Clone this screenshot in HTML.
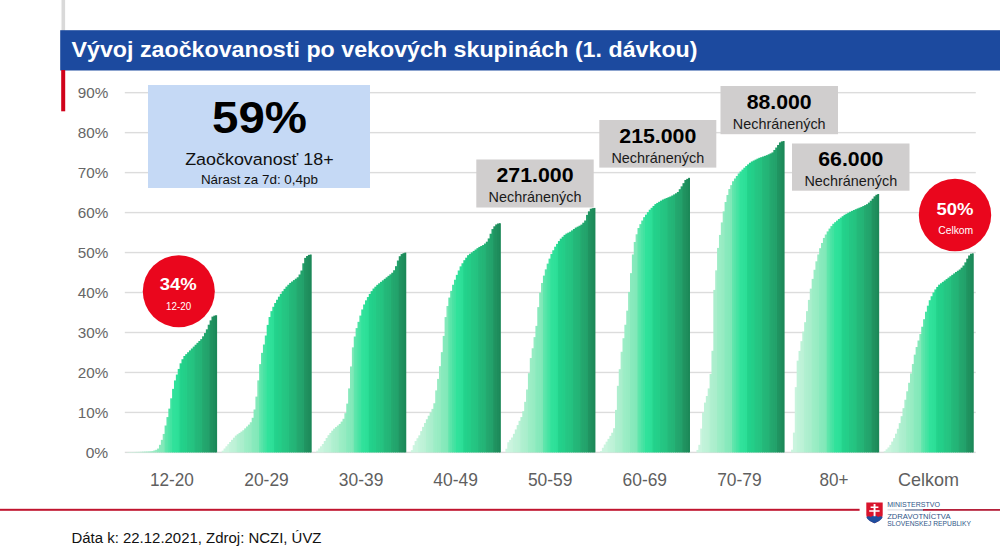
<!DOCTYPE html>
<html lang="sk">
<head>
<meta charset="utf-8">
<title>Vývoj zaočkovanosti po vekových skupinách (1. dávkou)</title>
<style>
html,body{margin:0;padding:0;background:#ffffff;}
body{width:1000px;height:552px;overflow:hidden;}
svg{display:block;font-family:'Liberation Sans', sans-serif;}
</style>
</head>
<body>
<svg width="1000" height="552" viewBox="0 0 1000 552">
<rect x="0" y="0" width="1000" height="552" fill="#ffffff"/>
<rect x="61.5" y="0" width="3.6" height="31" fill="#d9d9d9"/>
<rect x="60.2" y="30.2" width="940" height="40.3" fill="#1c4a9f"/>
<rect x="61.2" y="70" width="4" height="41.3" fill="#d0021b"/>
<text x="71.5" y="57.3" font-size="22.5" fill="#ffffff" font-weight="bold" text-anchor="start" textLength="626.0" lengthAdjust="spacingAndGlyphs">Vývoj zaočkovanosti po vekových skupinách (1. dávkou)</text>
<rect x="124.8" y="451.70" width="851" height="1.4" fill="#dcdcdc"/>
<text x="108.2" y="458.0" font-size="15.4" fill="#666666" font-weight="normal" text-anchor="end" textLength="22.5" lengthAdjust="spacingAndGlyphs">0%</text>
<rect x="124.8" y="411.73" width="851" height="1.4" fill="#dcdcdc"/>
<text x="108.2" y="418.0" font-size="15.4" fill="#666666" font-weight="normal" text-anchor="end" textLength="30.5" lengthAdjust="spacingAndGlyphs">10%</text>
<rect x="124.8" y="371.76" width="851" height="1.4" fill="#dcdcdc"/>
<text x="108.2" y="378.1" font-size="15.4" fill="#666666" font-weight="normal" text-anchor="end" textLength="30.5" lengthAdjust="spacingAndGlyphs">20%</text>
<rect x="124.8" y="331.79" width="851" height="1.4" fill="#dcdcdc"/>
<text x="108.2" y="338.1" font-size="15.4" fill="#666666" font-weight="normal" text-anchor="end" textLength="30.5" lengthAdjust="spacingAndGlyphs">30%</text>
<rect x="124.8" y="291.82" width="851" height="1.4" fill="#dcdcdc"/>
<text x="108.2" y="298.1" font-size="15.4" fill="#666666" font-weight="normal" text-anchor="end" textLength="30.5" lengthAdjust="spacingAndGlyphs">40%</text>
<rect x="124.8" y="251.85" width="851" height="1.4" fill="#dcdcdc"/>
<text x="108.2" y="258.1" font-size="15.4" fill="#666666" font-weight="normal" text-anchor="end" textLength="30.5" lengthAdjust="spacingAndGlyphs">50%</text>
<rect x="124.8" y="211.88" width="851" height="1.4" fill="#dcdcdc"/>
<text x="108.2" y="218.2" font-size="15.4" fill="#666666" font-weight="normal" text-anchor="end" textLength="30.5" lengthAdjust="spacingAndGlyphs">60%</text>
<rect x="124.8" y="171.91" width="851" height="1.4" fill="#dcdcdc"/>
<text x="108.2" y="178.2" font-size="15.4" fill="#666666" font-weight="normal" text-anchor="end" textLength="30.5" lengthAdjust="spacingAndGlyphs">70%</text>
<rect x="124.8" y="131.94" width="851" height="1.4" fill="#dcdcdc"/>
<text x="108.2" y="138.2" font-size="15.4" fill="#666666" font-weight="normal" text-anchor="end" textLength="30.5" lengthAdjust="spacingAndGlyphs">80%</text>
<rect x="124.8" y="91.97" width="851" height="1.4" fill="#dcdcdc"/>
<text x="108.2" y="98.3" font-size="15.4" fill="#666666" font-weight="normal" text-anchor="end" textLength="30.5" lengthAdjust="spacingAndGlyphs">90%</text>
<g shape-rendering="auto">
<rect x="127.10" y="452.09" width="2.77" height="0.31" fill="#cff6e1"/>
<rect x="128.97" y="452.05" width="2.77" height="0.35" fill="#cdf5e0"/>
<rect x="130.85" y="452.01" width="2.77" height="0.39" fill="#cbf4df"/>
<rect x="132.72" y="451.97" width="2.77" height="0.43" fill="#caf4de"/>
<rect x="134.60" y="451.93" width="2.77" height="0.47" fill="#c2f3da"/>
<rect x="136.47" y="451.88" width="2.77" height="0.52" fill="#c0f2d9"/>
<rect x="138.35" y="451.81" width="2.77" height="0.59" fill="#bef2d7"/>
<rect x="140.22" y="451.73" width="2.77" height="0.67" fill="#bbf1d6"/>
<rect x="142.10" y="451.66" width="2.77" height="0.74" fill="#b1f0d0"/>
<rect x="143.97" y="451.58" width="2.77" height="0.82" fill="#aeefcf"/>
<rect x="145.85" y="451.51" width="2.77" height="0.89" fill="#aceecd"/>
<rect x="147.72" y="451.43" width="2.77" height="0.97" fill="#a9eecc"/>
<rect x="149.60" y="451.36" width="2.77" height="1.04" fill="#9eedc6"/>
<rect x="151.47" y="451.12" width="2.77" height="1.28" fill="#9bedc5"/>
<rect x="153.35" y="450.46" width="2.77" height="1.94" fill="#98ecc3"/>
<rect x="155.22" y="449.81" width="2.77" height="2.59" fill="#96ebc2"/>
<rect x="157.10" y="448.56" width="2.77" height="3.84" fill="#89eabd"/>
<rect x="158.97" y="444.81" width="2.77" height="7.59" fill="#87e9bc"/>
<rect x="160.85" y="439.85" width="2.77" height="12.55" fill="#84e9ba"/>
<rect x="162.72" y="433.95" width="2.77" height="18.45" fill="#80e8b8"/>
<rect x="164.60" y="425.52" width="2.77" height="26.88" fill="#60e6ac"/>
<rect x="166.47" y="417.08" width="2.77" height="35.32" fill="#57e5a9"/>
<rect x="168.35" y="408.63" width="2.77" height="43.77" fill="#4ae3a4"/>
<rect x="170.22" y="398.32" width="2.77" height="54.08" fill="#41e3a1"/>
<rect x="172.10" y="388.87" width="2.77" height="63.53" fill="#31e29b"/>
<rect x="173.97" y="380.43" width="2.77" height="71.97" fill="#30e19b"/>
<rect x="175.85" y="374.57" width="2.77" height="77.83" fill="#2ee099"/>
<rect x="177.72" y="368.94" width="2.77" height="83.46" fill="#2cde97"/>
<rect x="179.60" y="363.32" width="2.77" height="89.08" fill="#24d38c"/>
<rect x="181.47" y="359.23" width="2.77" height="93.17" fill="#23d18b"/>
<rect x="183.35" y="356.00" width="2.77" height="96.40" fill="#24cf89"/>
<rect x="185.22" y="354.13" width="2.77" height="98.27" fill="#24ce88"/>
<rect x="187.10" y="352.25" width="2.77" height="100.15" fill="#25c784"/>
<rect x="188.97" y="350.38" width="2.77" height="102.02" fill="#25c683"/>
<rect x="190.85" y="348.50" width="2.77" height="103.90" fill="#25c481"/>
<rect x="192.72" y="346.63" width="2.77" height="105.77" fill="#25c280"/>
<rect x="194.60" y="344.75" width="2.77" height="107.65" fill="#24b97a"/>
<rect x="196.47" y="342.88" width="2.77" height="109.52" fill="#24b779"/>
<rect x="198.35" y="341.00" width="2.77" height="111.40" fill="#24b577"/>
<rect x="200.22" y="339.13" width="2.77" height="113.27" fill="#24b376"/>
<rect x="202.10" y="336.31" width="2.77" height="116.09" fill="#24a96f"/>
<rect x="203.97" y="333.07" width="2.77" height="119.33" fill="#23a66e"/>
<rect x="205.85" y="329.32" width="2.77" height="123.08" fill="#23a46c"/>
<rect x="207.72" y="324.72" width="2.77" height="127.68" fill="#23a16b"/>
<rect x="209.60" y="320.37" width="2.77" height="132.03" fill="#209461"/>
<rect x="211.47" y="316.62" width="2.77" height="135.78" fill="#20915f"/>
<rect x="213.35" y="315.64" width="2.77" height="136.76" fill="#1e8d5c"/>
<rect x="215.22" y="315.26" width="1.88" height="137.14" fill="#1c8858"/>
<rect x="221.68" y="450.68" width="2.77" height="1.72" fill="#cff6e1"/>
<rect x="223.56" y="448.49" width="2.77" height="3.91" fill="#cdf5e0"/>
<rect x="225.43" y="446.30" width="2.77" height="6.10" fill="#cbf4df"/>
<rect x="227.31" y="444.12" width="2.77" height="8.28" fill="#caf4de"/>
<rect x="229.18" y="441.98" width="2.77" height="10.42" fill="#c2f3da"/>
<rect x="231.06" y="439.83" width="2.77" height="12.57" fill="#c0f2d9"/>
<rect x="232.93" y="437.69" width="2.77" height="14.71" fill="#bef2d7"/>
<rect x="234.81" y="435.59" width="2.77" height="16.81" fill="#bbf1d6"/>
<rect x="236.68" y="434.25" width="2.77" height="18.15" fill="#b1f0d0"/>
<rect x="238.56" y="432.91" width="2.77" height="19.49" fill="#aeefcf"/>
<rect x="240.43" y="431.57" width="2.77" height="20.83" fill="#aceecd"/>
<rect x="242.31" y="430.23" width="2.77" height="22.17" fill="#a9eecc"/>
<rect x="244.18" y="428.36" width="2.77" height="24.04" fill="#9eedc6"/>
<rect x="246.06" y="426.49" width="2.77" height="25.91" fill="#9bedc5"/>
<rect x="247.93" y="424.61" width="2.77" height="27.79" fill="#98ecc3"/>
<rect x="249.81" y="422.26" width="2.77" height="30.14" fill="#96ebc2"/>
<rect x="251.68" y="417.79" width="2.77" height="34.61" fill="#89eabd"/>
<rect x="253.56" y="409.48" width="2.77" height="42.92" fill="#87e9bc"/>
<rect x="255.43" y="396.60" width="2.77" height="55.80" fill="#84e9ba"/>
<rect x="257.31" y="380.38" width="2.77" height="72.02" fill="#80e8b8"/>
<rect x="259.18" y="364.15" width="2.77" height="88.25" fill="#60e6ac"/>
<rect x="261.06" y="352.86" width="2.77" height="99.54" fill="#57e5a9"/>
<rect x="262.93" y="344.53" width="2.77" height="107.87" fill="#4ae3a4"/>
<rect x="264.81" y="335.54" width="2.77" height="116.86" fill="#41e3a1"/>
<rect x="266.68" y="324.91" width="2.77" height="127.49" fill="#31e29b"/>
<rect x="268.56" y="317.03" width="2.77" height="135.37" fill="#30e19b"/>
<rect x="270.43" y="311.14" width="2.77" height="141.26" fill="#2ee099"/>
<rect x="272.31" y="306.77" width="2.77" height="145.63" fill="#2cde97"/>
<rect x="274.18" y="303.04" width="2.77" height="149.36" fill="#24d38c"/>
<rect x="276.06" y="299.76" width="2.77" height="152.64" fill="#23d18b"/>
<rect x="277.93" y="296.70" width="2.77" height="155.70" fill="#24cf89"/>
<rect x="279.81" y="293.89" width="2.77" height="158.51" fill="#24ce88"/>
<rect x="281.68" y="291.23" width="2.77" height="161.17" fill="#25c784"/>
<rect x="283.56" y="288.88" width="2.77" height="163.52" fill="#25c683"/>
<rect x="285.43" y="286.63" width="2.77" height="165.77" fill="#25c481"/>
<rect x="287.31" y="284.76" width="2.77" height="167.64" fill="#25c280"/>
<rect x="289.18" y="282.91" width="2.77" height="169.49" fill="#24b97a"/>
<rect x="291.06" y="281.51" width="2.77" height="170.89" fill="#24b779"/>
<rect x="292.93" y="280.10" width="2.77" height="172.30" fill="#24b577"/>
<rect x="294.81" y="278.69" width="2.77" height="173.71" fill="#24b376"/>
<rect x="296.68" y="277.29" width="2.77" height="175.11" fill="#24a96f"/>
<rect x="298.56" y="274.51" width="2.77" height="177.89" fill="#23a66e"/>
<rect x="300.43" y="270.53" width="2.77" height="181.87" fill="#23a46c"/>
<rect x="302.31" y="263.27" width="2.77" height="189.13" fill="#23a16b"/>
<rect x="304.18" y="257.88" width="2.77" height="194.52" fill="#209461"/>
<rect x="306.06" y="256.01" width="2.77" height="196.39" fill="#20915f"/>
<rect x="307.93" y="254.86" width="2.77" height="197.54" fill="#1e8d5c"/>
<rect x="309.81" y="254.54" width="1.88" height="197.86" fill="#1c8858"/>
<rect x="316.26" y="450.66" width="2.77" height="1.74" fill="#cff6e1"/>
<rect x="318.13" y="448.47" width="2.77" height="3.93" fill="#cdf5e0"/>
<rect x="320.01" y="446.29" width="2.77" height="6.11" fill="#cbf4df"/>
<rect x="321.88" y="444.01" width="2.77" height="8.39" fill="#caf4de"/>
<rect x="323.76" y="441.01" width="2.77" height="11.39" fill="#c2f3da"/>
<rect x="325.63" y="438.01" width="2.77" height="14.39" fill="#c0f2d9"/>
<rect x="327.51" y="435.17" width="2.77" height="17.23" fill="#bef2d7"/>
<rect x="329.38" y="432.92" width="2.77" height="19.48" fill="#bbf1d6"/>
<rect x="331.26" y="430.67" width="2.77" height="21.73" fill="#b1f0d0"/>
<rect x="333.13" y="428.64" width="2.77" height="23.76" fill="#aeefcf"/>
<rect x="335.01" y="427.07" width="2.77" height="25.33" fill="#aceecd"/>
<rect x="336.88" y="425.51" width="2.77" height="26.89" fill="#a9eecc"/>
<rect x="338.76" y="423.95" width="2.77" height="28.45" fill="#9eedc6"/>
<rect x="340.63" y="421.60" width="2.77" height="30.80" fill="#9bedc5"/>
<rect x="342.51" y="418.79" width="2.77" height="33.61" fill="#98ecc3"/>
<rect x="344.38" y="413.16" width="2.77" height="39.24" fill="#96ebc2"/>
<rect x="346.26" y="403.61" width="2.77" height="48.79" fill="#89eabd"/>
<rect x="348.13" y="388.41" width="2.77" height="63.99" fill="#87e9bc"/>
<rect x="350.01" y="366.46" width="2.77" height="85.94" fill="#84e9ba"/>
<rect x="351.88" y="347.36" width="2.77" height="105.04" fill="#80e8b8"/>
<rect x="353.76" y="336.51" width="2.77" height="115.89" fill="#60e6ac"/>
<rect x="355.63" y="328.09" width="2.77" height="124.31" fill="#57e5a9"/>
<rect x="357.51" y="321.84" width="2.77" height="130.56" fill="#4ae3a4"/>
<rect x="359.38" y="315.59" width="2.77" height="136.81" fill="#41e3a1"/>
<rect x="361.26" y="309.47" width="2.77" height="142.93" fill="#31e29b"/>
<rect x="363.13" y="304.47" width="2.77" height="147.93" fill="#30e19b"/>
<rect x="365.01" y="300.34" width="2.77" height="152.06" fill="#2ee099"/>
<rect x="366.88" y="297.06" width="2.77" height="155.34" fill="#2cde97"/>
<rect x="368.76" y="293.95" width="2.77" height="158.45" fill="#24d38c"/>
<rect x="370.63" y="291.14" width="2.77" height="161.26" fill="#23d18b"/>
<rect x="372.51" y="288.55" width="2.77" height="163.85" fill="#24cf89"/>
<rect x="374.38" y="286.68" width="2.77" height="165.72" fill="#24ce88"/>
<rect x="376.26" y="284.84" width="2.77" height="167.56" fill="#25c784"/>
<rect x="378.13" y="283.34" width="2.77" height="169.06" fill="#25c683"/>
<rect x="380.01" y="281.84" width="2.77" height="170.56" fill="#25c481"/>
<rect x="381.88" y="280.34" width="2.77" height="172.06" fill="#25c280"/>
<rect x="383.76" y="278.84" width="2.77" height="173.56" fill="#24b97a"/>
<rect x="385.63" y="277.34" width="2.77" height="175.06" fill="#24b779"/>
<rect x="387.51" y="275.84" width="2.77" height="176.56" fill="#24b577"/>
<rect x="389.38" y="274.34" width="2.77" height="178.06" fill="#24b376"/>
<rect x="391.26" y="272.74" width="2.77" height="179.66" fill="#24a96f"/>
<rect x="393.13" y="270.24" width="2.77" height="182.16" fill="#23a66e"/>
<rect x="395.01" y="266.16" width="2.77" height="186.24" fill="#23a46c"/>
<rect x="396.88" y="260.53" width="2.77" height="191.87" fill="#23a16b"/>
<rect x="398.76" y="256.21" width="2.77" height="196.19" fill="#209461"/>
<rect x="400.63" y="254.08" width="2.77" height="198.32" fill="#20915f"/>
<rect x="402.51" y="253.17" width="2.77" height="199.23" fill="#1e8d5c"/>
<rect x="404.38" y="252.60" width="1.88" height="199.80" fill="#1c8858"/>
<rect x="410.84" y="450.13" width="2.77" height="2.27" fill="#cff6e1"/>
<rect x="412.72" y="445.17" width="2.77" height="7.23" fill="#cdf5e0"/>
<rect x="414.59" y="441.06" width="2.77" height="11.34" fill="#cbf4df"/>
<rect x="416.47" y="438.24" width="2.77" height="14.16" fill="#caf4de"/>
<rect x="418.34" y="435.32" width="2.77" height="17.08" fill="#c2f3da"/>
<rect x="420.22" y="431.10" width="2.77" height="21.30" fill="#c0f2d9"/>
<rect x="422.09" y="426.88" width="2.77" height="25.52" fill="#bef2d7"/>
<rect x="423.97" y="423.02" width="2.77" height="29.38" fill="#bbf1d6"/>
<rect x="425.84" y="419.27" width="2.77" height="33.13" fill="#b1f0d0"/>
<rect x="427.72" y="415.73" width="2.77" height="36.67" fill="#aeefcf"/>
<rect x="429.59" y="412.45" width="2.77" height="39.95" fill="#aceecd"/>
<rect x="431.47" y="408.88" width="2.77" height="43.52" fill="#a9eecc"/>
<rect x="433.34" y="403.25" width="2.77" height="49.15" fill="#9eedc6"/>
<rect x="435.22" y="390.41" width="2.77" height="61.99" fill="#9bedc5"/>
<rect x="437.09" y="378.91" width="2.77" height="73.49" fill="#98ecc3"/>
<rect x="438.97" y="366.17" width="2.77" height="86.23" fill="#96ebc2"/>
<rect x="440.84" y="352.15" width="2.77" height="100.25" fill="#89eabd"/>
<rect x="442.72" y="335.93" width="2.77" height="116.47" fill="#87e9bc"/>
<rect x="444.59" y="317.07" width="2.77" height="135.33" fill="#84e9ba"/>
<rect x="446.47" y="306.01" width="2.77" height="146.39" fill="#80e8b8"/>
<rect x="448.34" y="297.57" width="2.77" height="154.83" fill="#60e6ac"/>
<rect x="450.22" y="290.88" width="2.77" height="161.52" fill="#57e5a9"/>
<rect x="452.09" y="284.77" width="2.77" height="167.63" fill="#4ae3a4"/>
<rect x="453.97" y="279.73" width="2.77" height="172.67" fill="#41e3a1"/>
<rect x="455.84" y="274.88" width="2.77" height="177.52" fill="#31e29b"/>
<rect x="457.72" y="270.50" width="2.77" height="181.90" fill="#30e19b"/>
<rect x="459.59" y="266.37" width="2.77" height="186.03" fill="#2ee099"/>
<rect x="461.47" y="263.25" width="2.77" height="189.15" fill="#2cde97"/>
<rect x="463.34" y="260.18" width="2.77" height="192.22" fill="#24d38c"/>
<rect x="465.22" y="257.68" width="2.77" height="194.72" fill="#23d18b"/>
<rect x="467.09" y="255.18" width="2.77" height="197.22" fill="#24cf89"/>
<rect x="468.97" y="253.77" width="2.77" height="198.63" fill="#24ce88"/>
<rect x="470.84" y="252.36" width="2.77" height="200.04" fill="#25c784"/>
<rect x="472.72" y="250.95" width="2.77" height="201.45" fill="#25c683"/>
<rect x="474.59" y="249.55" width="2.77" height="202.85" fill="#25c481"/>
<rect x="476.47" y="248.14" width="2.77" height="204.26" fill="#25c280"/>
<rect x="478.34" y="246.92" width="2.77" height="205.48" fill="#24b97a"/>
<rect x="480.22" y="245.98" width="2.77" height="206.42" fill="#24b779"/>
<rect x="482.09" y="245.04" width="2.77" height="207.36" fill="#24b577"/>
<rect x="483.97" y="243.55" width="2.77" height="208.85" fill="#24b376"/>
<rect x="485.84" y="241.68" width="2.77" height="210.72" fill="#24a96f"/>
<rect x="487.72" y="238.44" width="2.77" height="213.96" fill="#23a66e"/>
<rect x="489.59" y="233.75" width="2.77" height="218.65" fill="#23a46c"/>
<rect x="491.47" y="229.06" width="2.77" height="223.34" fill="#23a16b"/>
<rect x="493.34" y="226.30" width="2.77" height="226.10" fill="#209461"/>
<rect x="495.22" y="224.42" width="2.77" height="227.98" fill="#20915f"/>
<rect x="497.09" y="223.50" width="2.77" height="228.90" fill="#1e8d5c"/>
<rect x="498.97" y="223.25" width="1.88" height="229.15" fill="#1c8858"/>
<rect x="505.42" y="448.76" width="2.77" height="3.64" fill="#cff6e1"/>
<rect x="507.29" y="442.27" width="2.77" height="10.13" fill="#cdf5e0"/>
<rect x="509.17" y="439.87" width="2.77" height="12.53" fill="#cbf4df"/>
<rect x="511.04" y="437.52" width="2.77" height="14.88" fill="#caf4de"/>
<rect x="512.92" y="433.83" width="2.77" height="18.57" fill="#c2f3da"/>
<rect x="514.79" y="429.45" width="2.77" height="22.95" fill="#c0f2d9"/>
<rect x="516.67" y="425.08" width="2.77" height="27.32" fill="#bef2d7"/>
<rect x="518.54" y="420.82" width="2.77" height="31.58" fill="#bbf1d6"/>
<rect x="520.42" y="417.07" width="2.77" height="35.33" fill="#b1f0d0"/>
<rect x="522.29" y="411.21" width="2.77" height="41.19" fill="#aeefcf"/>
<rect x="524.17" y="401.83" width="2.77" height="50.57" fill="#aceecd"/>
<rect x="526.04" y="389.50" width="2.77" height="62.90" fill="#a9eecc"/>
<rect x="527.92" y="373.16" width="2.77" height="79.24" fill="#9eedc6"/>
<rect x="529.79" y="358.08" width="2.77" height="94.32" fill="#9bedc5"/>
<rect x="531.67" y="348.29" width="2.77" height="104.11" fill="#98ecc3"/>
<rect x="533.54" y="337.12" width="2.77" height="115.28" fill="#96ebc2"/>
<rect x="535.42" y="325.88" width="2.77" height="126.52" fill="#89eabd"/>
<rect x="537.29" y="307.13" width="2.77" height="145.27" fill="#87e9bc"/>
<rect x="539.17" y="292.67" width="2.77" height="159.73" fill="#84e9ba"/>
<rect x="541.04" y="283.01" width="2.77" height="169.39" fill="#80e8b8"/>
<rect x="542.92" y="275.62" width="2.77" height="176.78" fill="#60e6ac"/>
<rect x="544.79" y="269.37" width="2.77" height="183.03" fill="#57e5a9"/>
<rect x="546.67" y="263.63" width="2.77" height="188.77" fill="#4ae3a4"/>
<rect x="548.54" y="258.63" width="2.77" height="193.77" fill="#41e3a1"/>
<rect x="550.42" y="254.01" width="2.77" height="198.39" fill="#31e29b"/>
<rect x="552.29" y="250.26" width="2.77" height="202.14" fill="#30e19b"/>
<rect x="554.17" y="246.71" width="2.77" height="205.69" fill="#2ee099"/>
<rect x="556.04" y="243.89" width="2.77" height="208.51" fill="#2cde97"/>
<rect x="557.92" y="241.08" width="2.77" height="211.32" fill="#24d38c"/>
<rect x="559.79" y="238.65" width="2.77" height="213.75" fill="#23d18b"/>
<rect x="561.67" y="236.77" width="2.77" height="215.63" fill="#24cf89"/>
<rect x="563.54" y="234.90" width="2.77" height="217.50" fill="#24ce88"/>
<rect x="565.42" y="233.58" width="2.77" height="218.82" fill="#25c784"/>
<rect x="567.29" y="232.65" width="2.77" height="219.75" fill="#25c683"/>
<rect x="569.17" y="231.71" width="2.77" height="220.69" fill="#25c481"/>
<rect x="571.04" y="230.40" width="2.77" height="222.00" fill="#25c280"/>
<rect x="572.92" y="228.99" width="2.77" height="223.41" fill="#24b97a"/>
<rect x="574.79" y="227.58" width="2.77" height="224.82" fill="#24b779"/>
<rect x="576.67" y="226.65" width="2.77" height="225.75" fill="#24b577"/>
<rect x="578.54" y="225.71" width="2.77" height="226.69" fill="#24b376"/>
<rect x="580.42" y="224.59" width="2.77" height="227.81" fill="#24a96f"/>
<rect x="582.29" y="222.71" width="2.77" height="229.69" fill="#23a66e"/>
<rect x="584.17" y="220.49" width="2.77" height="231.91" fill="#23a46c"/>
<rect x="586.04" y="214.86" width="2.77" height="237.54" fill="#23a16b"/>
<rect x="587.92" y="211.34" width="2.77" height="241.06" fill="#209461"/>
<rect x="589.79" y="208.74" width="2.77" height="243.66" fill="#20915f"/>
<rect x="591.67" y="208.19" width="2.77" height="244.21" fill="#1e8d5c"/>
<rect x="593.54" y="207.94" width="1.88" height="244.46" fill="#1c8858"/>
<rect x="600.00" y="451.08" width="2.77" height="1.32" fill="#cff6e1"/>
<rect x="601.88" y="447.80" width="2.77" height="4.60" fill="#cdf5e0"/>
<rect x="603.75" y="444.51" width="2.77" height="7.89" fill="#cbf4df"/>
<rect x="605.62" y="441.68" width="2.77" height="10.72" fill="#caf4de"/>
<rect x="607.50" y="438.87" width="2.77" height="13.53" fill="#c2f3da"/>
<rect x="609.38" y="435.86" width="2.77" height="16.54" fill="#c0f2d9"/>
<rect x="611.25" y="432.73" width="2.77" height="19.67" fill="#bef2d7"/>
<rect x="613.12" y="428.21" width="2.77" height="24.19" fill="#bbf1d6"/>
<rect x="615.00" y="409.92" width="2.77" height="42.48" fill="#b1f0d0"/>
<rect x="616.88" y="385.82" width="2.77" height="66.58" fill="#aeefcf"/>
<rect x="618.75" y="369.21" width="2.77" height="83.19" fill="#aceecd"/>
<rect x="620.62" y="351.78" width="2.77" height="100.62" fill="#a9eecc"/>
<rect x="622.50" y="338.21" width="2.77" height="114.19" fill="#9eedc6"/>
<rect x="624.38" y="324.75" width="2.77" height="127.65" fill="#9bedc5"/>
<rect x="626.25" y="310.66" width="2.77" height="141.74" fill="#98ecc3"/>
<rect x="628.12" y="291.91" width="2.77" height="160.49" fill="#96ebc2"/>
<rect x="630.00" y="273.16" width="2.77" height="179.24" fill="#89eabd"/>
<rect x="631.88" y="254.49" width="2.77" height="197.91" fill="#87e9bc"/>
<rect x="633.75" y="241.99" width="2.77" height="210.41" fill="#84e9ba"/>
<rect x="635.62" y="234.28" width="2.77" height="218.12" fill="#80e8b8"/>
<rect x="637.50" y="228.03" width="2.77" height="224.37" fill="#60e6ac"/>
<rect x="639.38" y="224.16" width="2.77" height="228.24" fill="#57e5a9"/>
<rect x="641.25" y="220.55" width="2.77" height="231.85" fill="#4ae3a4"/>
<rect x="643.12" y="217.16" width="2.77" height="235.24" fill="#41e3a1"/>
<rect x="645.00" y="214.66" width="2.77" height="237.74" fill="#31e29b"/>
<rect x="646.88" y="212.16" width="2.77" height="240.24" fill="#30e19b"/>
<rect x="648.75" y="209.71" width="2.77" height="242.69" fill="#2ee099"/>
<rect x="650.62" y="207.84" width="2.77" height="244.56" fill="#2cde97"/>
<rect x="652.50" y="205.96" width="2.77" height="246.44" fill="#24d38c"/>
<rect x="654.38" y="204.09" width="2.77" height="248.31" fill="#23d18b"/>
<rect x="656.25" y="202.93" width="2.77" height="249.47" fill="#24cf89"/>
<rect x="658.12" y="201.81" width="2.77" height="250.59" fill="#24ce88"/>
<rect x="660.00" y="200.68" width="2.77" height="251.72" fill="#25c784"/>
<rect x="661.88" y="199.56" width="2.77" height="252.84" fill="#25c683"/>
<rect x="663.75" y="198.74" width="2.77" height="253.66" fill="#25c481"/>
<rect x="665.62" y="197.99" width="2.77" height="254.41" fill="#25c280"/>
<rect x="667.50" y="197.24" width="2.77" height="255.16" fill="#24b97a"/>
<rect x="669.38" y="196.49" width="2.77" height="255.91" fill="#24b779"/>
<rect x="671.25" y="195.51" width="2.77" height="256.89" fill="#24b577"/>
<rect x="673.12" y="194.40" width="2.77" height="258.00" fill="#24b376"/>
<rect x="675.00" y="193.30" width="2.77" height="259.10" fill="#24a96f"/>
<rect x="676.88" y="191.99" width="2.77" height="260.41" fill="#23a66e"/>
<rect x="678.75" y="189.18" width="2.77" height="263.22" fill="#23a46c"/>
<rect x="680.62" y="186.35" width="2.77" height="266.05" fill="#23a16b"/>
<rect x="682.50" y="183.16" width="2.77" height="269.24" fill="#209461"/>
<rect x="684.38" y="179.97" width="2.77" height="272.43" fill="#20915f"/>
<rect x="686.25" y="178.88" width="2.77" height="273.52" fill="#1e8d5c"/>
<rect x="688.12" y="177.85" width="1.88" height="274.55" fill="#1c8858"/>
<rect x="696.46" y="449.95" width="2.77" height="2.45" fill="#cdf5e0"/>
<rect x="698.33" y="444.82" width="2.77" height="7.58" fill="#cbf4df"/>
<rect x="700.21" y="428.57" width="2.77" height="23.83" fill="#caf4de"/>
<rect x="702.08" y="412.48" width="2.77" height="39.92" fill="#c2f3da"/>
<rect x="703.96" y="402.60" width="2.77" height="49.80" fill="#c0f2d9"/>
<rect x="705.83" y="396.00" width="2.77" height="56.40" fill="#bef2d7"/>
<rect x="707.71" y="388.43" width="2.77" height="63.97" fill="#bbf1d6"/>
<rect x="709.58" y="373.96" width="2.77" height="78.44" fill="#b1f0d0"/>
<rect x="711.46" y="350.79" width="2.77" height="101.61" fill="#aeefcf"/>
<rect x="713.33" y="289.92" width="2.77" height="162.48" fill="#aceecd"/>
<rect x="715.21" y="270.35" width="2.77" height="182.05" fill="#a9eecc"/>
<rect x="717.08" y="247.91" width="2.77" height="204.49" fill="#9eedc6"/>
<rect x="718.96" y="234.92" width="2.77" height="217.48" fill="#9bedc5"/>
<rect x="720.83" y="222.42" width="2.77" height="229.98" fill="#98ecc3"/>
<rect x="722.71" y="211.37" width="2.77" height="241.03" fill="#96ebc2"/>
<rect x="724.58" y="202.01" width="2.77" height="250.39" fill="#89eabd"/>
<rect x="726.46" y="194.98" width="2.77" height="257.42" fill="#87e9bc"/>
<rect x="728.33" y="189.03" width="2.77" height="263.37" fill="#84e9ba"/>
<rect x="730.21" y="185.12" width="2.77" height="267.28" fill="#80e8b8"/>
<rect x="732.08" y="181.22" width="2.77" height="271.18" fill="#60e6ac"/>
<rect x="733.96" y="178.51" width="2.77" height="273.89" fill="#57e5a9"/>
<rect x="735.83" y="176.01" width="2.77" height="276.39" fill="#4ae3a4"/>
<rect x="737.71" y="173.51" width="2.77" height="278.89" fill="#41e3a1"/>
<rect x="739.58" y="171.47" width="2.77" height="280.93" fill="#31e29b"/>
<rect x="741.46" y="169.60" width="2.77" height="282.80" fill="#30e19b"/>
<rect x="743.33" y="167.72" width="2.77" height="284.68" fill="#2ee099"/>
<rect x="745.21" y="166.00" width="2.77" height="286.40" fill="#2cde97"/>
<rect x="747.08" y="164.38" width="2.77" height="288.02" fill="#24d38c"/>
<rect x="748.96" y="162.75" width="2.77" height="289.65" fill="#23d18b"/>
<rect x="750.83" y="161.47" width="2.77" height="290.93" fill="#24cf89"/>
<rect x="752.71" y="160.53" width="2.77" height="291.87" fill="#24ce88"/>
<rect x="754.58" y="159.60" width="2.77" height="292.80" fill="#25c784"/>
<rect x="756.46" y="158.66" width="2.77" height="293.74" fill="#25c683"/>
<rect x="758.33" y="157.82" width="2.77" height="294.58" fill="#25c481"/>
<rect x="760.21" y="157.16" width="2.77" height="295.24" fill="#25c280"/>
<rect x="762.08" y="156.51" width="2.77" height="295.89" fill="#24b97a"/>
<rect x="763.96" y="155.85" width="2.77" height="296.55" fill="#24b779"/>
<rect x="765.83" y="155.15" width="2.77" height="297.25" fill="#24b577"/>
<rect x="767.71" y="154.28" width="2.77" height="298.12" fill="#24b376"/>
<rect x="769.58" y="153.40" width="2.77" height="299.00" fill="#24a96f"/>
<rect x="771.46" y="152.41" width="2.77" height="299.99" fill="#23a66e"/>
<rect x="773.33" y="149.97" width="2.77" height="302.43" fill="#23a46c"/>
<rect x="775.21" y="147.53" width="2.77" height="304.87" fill="#23a16b"/>
<rect x="777.08" y="144.98" width="2.77" height="307.42" fill="#209461"/>
<rect x="778.96" y="142.42" width="2.77" height="309.98" fill="#20915f"/>
<rect x="780.83" y="141.42" width="2.77" height="310.98" fill="#1e8d5c"/>
<rect x="782.71" y="141.04" width="1.88" height="311.36" fill="#1c8858"/>
<rect x="791.03" y="449.70" width="2.77" height="2.70" fill="#cdf5e0"/>
<rect x="792.91" y="432.62" width="2.77" height="19.78" fill="#cbf4df"/>
<rect x="794.78" y="387.15" width="2.77" height="65.25" fill="#caf4de"/>
<rect x="796.66" y="360.67" width="2.77" height="91.73" fill="#c2f3da"/>
<rect x="798.53" y="350.91" width="2.77" height="101.49" fill="#c0f2d9"/>
<rect x="800.41" y="341.16" width="2.77" height="111.24" fill="#bef2d7"/>
<rect x="802.28" y="331.57" width="2.77" height="120.83" fill="#bbf1d6"/>
<rect x="804.16" y="322.19" width="2.77" height="130.21" fill="#b1f0d0"/>
<rect x="806.03" y="311.14" width="2.77" height="141.26" fill="#aeefcf"/>
<rect x="807.91" y="299.89" width="2.77" height="152.51" fill="#aceecd"/>
<rect x="809.78" y="288.64" width="2.77" height="163.76" fill="#a9eecc"/>
<rect x="811.66" y="278.90" width="2.77" height="173.50" fill="#9eedc6"/>
<rect x="813.53" y="269.77" width="2.77" height="182.63" fill="#9bedc5"/>
<rect x="815.41" y="261.33" width="2.77" height="191.07" fill="#98ecc3"/>
<rect x="817.28" y="254.45" width="2.77" height="197.95" fill="#96ebc2"/>
<rect x="819.16" y="248.20" width="2.77" height="204.20" fill="#89eabd"/>
<rect x="821.03" y="242.98" width="2.77" height="209.42" fill="#87e9bc"/>
<rect x="822.91" y="237.94" width="2.77" height="214.46" fill="#84e9ba"/>
<rect x="824.78" y="234.52" width="2.77" height="217.88" fill="#80e8b8"/>
<rect x="826.66" y="231.40" width="2.77" height="221.00" fill="#60e6ac"/>
<rect x="828.53" y="228.60" width="2.77" height="223.80" fill="#57e5a9"/>
<rect x="830.41" y="226.10" width="2.77" height="226.30" fill="#4ae3a4"/>
<rect x="832.28" y="223.79" width="2.77" height="228.61" fill="#41e3a1"/>
<rect x="834.16" y="222.20" width="2.77" height="230.20" fill="#31e29b"/>
<rect x="836.03" y="220.61" width="2.77" height="231.79" fill="#30e19b"/>
<rect x="837.91" y="219.03" width="2.77" height="233.37" fill="#2ee099"/>
<rect x="839.78" y="217.63" width="2.77" height="234.77" fill="#2cde97"/>
<rect x="841.66" y="216.22" width="2.77" height="236.18" fill="#24d38c"/>
<rect x="843.53" y="214.83" width="2.77" height="237.57" fill="#23d18b"/>
<rect x="845.41" y="213.80" width="2.77" height="238.60" fill="#24cf89"/>
<rect x="847.28" y="212.76" width="2.77" height="239.64" fill="#24ce88"/>
<rect x="849.16" y="211.73" width="2.77" height="240.67" fill="#25c784"/>
<rect x="851.03" y="210.88" width="2.77" height="241.52" fill="#25c683"/>
<rect x="852.91" y="210.03" width="2.77" height="242.37" fill="#25c481"/>
<rect x="854.78" y="209.19" width="2.77" height="243.21" fill="#25c280"/>
<rect x="856.66" y="208.42" width="2.77" height="243.98" fill="#24b97a"/>
<rect x="858.53" y="207.67" width="2.77" height="244.73" fill="#24b779"/>
<rect x="860.41" y="206.92" width="2.77" height="245.48" fill="#24b577"/>
<rect x="862.28" y="206.03" width="2.77" height="246.37" fill="#24b376"/>
<rect x="864.16" y="205.10" width="2.77" height="247.30" fill="#24a96f"/>
<rect x="866.03" y="204.16" width="2.77" height="248.24" fill="#23a66e"/>
<rect x="867.91" y="202.60" width="2.77" height="249.80" fill="#23a46c"/>
<rect x="869.78" y="200.73" width="2.77" height="251.67" fill="#23a16b"/>
<rect x="871.66" y="198.69" width="2.77" height="253.71" fill="#209461"/>
<rect x="873.53" y="196.35" width="2.77" height="256.05" fill="#20915f"/>
<rect x="875.41" y="194.76" width="2.77" height="257.64" fill="#1e8d5c"/>
<rect x="877.28" y="193.98" width="1.88" height="258.42" fill="#1c8858"/>
<rect x="883.74" y="451.19" width="2.77" height="1.21" fill="#cff6e1"/>
<rect x="885.62" y="449.32" width="2.77" height="3.08" fill="#cdf5e0"/>
<rect x="887.49" y="447.44" width="2.77" height="4.96" fill="#cbf4df"/>
<rect x="889.37" y="444.85" width="2.77" height="7.55" fill="#caf4de"/>
<rect x="891.24" y="441.57" width="2.77" height="10.83" fill="#c2f3da"/>
<rect x="893.12" y="438.08" width="2.77" height="14.32" fill="#c0f2d9"/>
<rect x="894.99" y="433.71" width="2.77" height="18.69" fill="#bef2d7"/>
<rect x="896.87" y="428.77" width="2.77" height="23.63" fill="#bbf1d6"/>
<rect x="898.74" y="423.14" width="2.77" height="29.26" fill="#b1f0d0"/>
<rect x="900.62" y="416.18" width="2.77" height="36.22" fill="#aeefcf"/>
<rect x="902.49" y="408.16" width="2.77" height="44.24" fill="#aceecd"/>
<rect x="904.37" y="399.73" width="2.77" height="52.67" fill="#a9eecc"/>
<rect x="906.24" y="391.29" width="2.77" height="61.11" fill="#9eedc6"/>
<rect x="908.12" y="382.78" width="2.77" height="69.62" fill="#9bedc5"/>
<rect x="909.99" y="373.41" width="2.77" height="78.99" fill="#98ecc3"/>
<rect x="911.87" y="364.03" width="2.77" height="88.37" fill="#96ebc2"/>
<rect x="913.74" y="354.66" width="2.77" height="97.74" fill="#89eabd"/>
<rect x="915.62" y="347.00" width="2.77" height="105.40" fill="#87e9bc"/>
<rect x="917.49" y="340.52" width="2.77" height="111.88" fill="#84e9ba"/>
<rect x="919.37" y="334.04" width="2.77" height="118.36" fill="#80e8b8"/>
<rect x="921.24" y="326.72" width="2.77" height="125.68" fill="#60e6ac"/>
<rect x="923.12" y="319.22" width="2.77" height="133.18" fill="#57e5a9"/>
<rect x="924.99" y="311.72" width="2.77" height="140.68" fill="#4ae3a4"/>
<rect x="926.87" y="305.69" width="2.77" height="146.71" fill="#41e3a1"/>
<rect x="928.74" y="300.22" width="2.77" height="152.18" fill="#31e29b"/>
<rect x="930.62" y="296.24" width="2.77" height="156.16" fill="#30e19b"/>
<rect x="932.49" y="292.49" width="2.77" height="159.91" fill="#2ee099"/>
<rect x="934.37" y="289.43" width="2.77" height="162.97" fill="#2cde97"/>
<rect x="936.24" y="286.93" width="2.77" height="165.47" fill="#24d38c"/>
<rect x="938.12" y="284.68" width="2.77" height="167.72" fill="#23d18b"/>
<rect x="939.99" y="283.27" width="2.77" height="169.13" fill="#24cf89"/>
<rect x="941.87" y="281.87" width="2.77" height="170.53" fill="#24ce88"/>
<rect x="943.74" y="280.46" width="2.77" height="171.94" fill="#25c784"/>
<rect x="945.62" y="279.05" width="2.77" height="173.35" fill="#25c683"/>
<rect x="947.49" y="277.65" width="2.77" height="174.75" fill="#25c481"/>
<rect x="949.37" y="276.24" width="2.77" height="176.16" fill="#25c280"/>
<rect x="951.24" y="274.83" width="2.77" height="177.57" fill="#24b97a"/>
<rect x="953.12" y="273.43" width="2.77" height="178.97" fill="#24b779"/>
<rect x="954.99" y="272.02" width="2.77" height="180.38" fill="#24b577"/>
<rect x="956.87" y="270.76" width="2.77" height="181.64" fill="#24b376"/>
<rect x="958.74" y="269.51" width="2.77" height="182.89" fill="#24a96f"/>
<rect x="960.62" y="267.68" width="2.77" height="184.72" fill="#23a66e"/>
<rect x="962.49" y="265.52" width="2.77" height="186.88" fill="#23a46c"/>
<rect x="964.37" y="262.37" width="2.77" height="190.03" fill="#23a16b"/>
<rect x="966.24" y="258.66" width="2.77" height="193.74" fill="#209461"/>
<rect x="968.12" y="255.47" width="2.77" height="196.93" fill="#20915f"/>
<rect x="969.99" y="253.77" width="2.77" height="198.63" fill="#1e8d5c"/>
<rect x="971.87" y="253.37" width="1.88" height="199.03" fill="#1c8858"/>
</g>
<text x="171.9" y="485.5" font-size="18.4" fill="#5f5f5f" font-weight="normal" text-anchor="middle" textLength="44.0" lengthAdjust="spacingAndGlyphs">12-20</text>
<text x="266.5" y="485.5" font-size="18.4" fill="#5f5f5f" font-weight="normal" text-anchor="middle" textLength="44.5" lengthAdjust="spacingAndGlyphs">20-29</text>
<text x="361.1" y="485.5" font-size="18.4" fill="#5f5f5f" font-weight="normal" text-anchor="middle" textLength="44.5" lengthAdjust="spacingAndGlyphs">30-39</text>
<text x="455.6" y="485.5" font-size="18.4" fill="#5f5f5f" font-weight="normal" text-anchor="middle" textLength="44.5" lengthAdjust="spacingAndGlyphs">40-49</text>
<text x="550.2" y="485.5" font-size="18.4" fill="#5f5f5f" font-weight="normal" text-anchor="middle" textLength="44.5" lengthAdjust="spacingAndGlyphs">50-59</text>
<text x="644.8" y="485.5" font-size="18.4" fill="#5f5f5f" font-weight="normal" text-anchor="middle" textLength="44.5" lengthAdjust="spacingAndGlyphs">60-69</text>
<text x="739.4" y="485.5" font-size="18.4" fill="#5f5f5f" font-weight="normal" text-anchor="middle" textLength="44.5" lengthAdjust="spacingAndGlyphs">70-79</text>
<text x="834.0" y="485.5" font-size="18.4" fill="#5f5f5f" font-weight="normal" text-anchor="middle" textLength="29.0" lengthAdjust="spacingAndGlyphs">80+</text>
<text x="928.5" y="485.5" font-size="18.4" fill="#5f5f5f" font-weight="normal" text-anchor="middle" textLength="61.0" lengthAdjust="spacingAndGlyphs">Celkom</text>
<rect x="148" y="85" width="222" height="103" fill="#c5d9f5"/>
<text x="259.5" y="132.5" font-size="44.5" fill="#000000" font-weight="bold" text-anchor="middle" textLength="95.0" lengthAdjust="spacingAndGlyphs">59%</text>
<text x="259.4" y="164.8" font-size="17.2" fill="#111111" font-weight="normal" text-anchor="middle" textLength="148.5" lengthAdjust="spacingAndGlyphs">Zaočkovanosť 18+</text>
<text x="259.4" y="183.5" font-size="13.2" fill="#111111" font-weight="normal" text-anchor="middle" textLength="117.0" lengthAdjust="spacingAndGlyphs">Nárast za 7d: 0,4pb</text>
<rect x="476.3" y="159.5" width="117.4" height="48.0" fill="#d0cece"/>
<text x="535.0" y="182.0" font-size="20.3" fill="#000000" font-weight="bold" text-anchor="middle" textLength="77.0" lengthAdjust="spacingAndGlyphs">271.000</text>
<text x="535.0" y="202.3" font-size="15.0" fill="#1a1a1a" font-weight="normal" text-anchor="middle" textLength="92.8" lengthAdjust="spacingAndGlyphs">Nechránených</text>
<rect x="599.3" y="120.0" width="117.0" height="47.6" fill="#d0cece"/>
<text x="657.8" y="142.5" font-size="20.3" fill="#000000" font-weight="bold" text-anchor="middle" textLength="77.0" lengthAdjust="spacingAndGlyphs">215.000</text>
<text x="657.8" y="162.8" font-size="15.0" fill="#1a1a1a" font-weight="normal" text-anchor="middle" textLength="92.8" lengthAdjust="spacingAndGlyphs">Nechránených</text>
<rect x="720.5" y="86.0" width="117.5" height="48.2" fill="#d0cece"/>
<text x="779.2" y="108.5" font-size="20.3" fill="#000000" font-weight="bold" text-anchor="middle" textLength="65.0" lengthAdjust="spacingAndGlyphs">88.000</text>
<text x="779.2" y="128.8" font-size="15.0" fill="#1a1a1a" font-weight="normal" text-anchor="middle" textLength="92.8" lengthAdjust="spacingAndGlyphs">Nechránených</text>
<rect x="792.0" y="143.5" width="117.5" height="47.2" fill="#d0cece"/>
<text x="850.8" y="166.0" font-size="20.3" fill="#000000" font-weight="bold" text-anchor="middle" textLength="65.0" lengthAdjust="spacingAndGlyphs">66.000</text>
<text x="850.8" y="186.3" font-size="15.0" fill="#1a1a1a" font-weight="normal" text-anchor="middle" textLength="92.8" lengthAdjust="spacingAndGlyphs">Nechránených</text>
<circle cx="178.8" cy="291.2" r="36" fill="#ea061d"/>
<text x="178.2" y="290.4" font-size="17.2" fill="#ffffff" font-weight="bold" text-anchor="middle" textLength="37.0" lengthAdjust="spacingAndGlyphs">34%</text>
<text x="178.6" y="309.7" font-size="10.6" fill="#ffffff" font-weight="normal" text-anchor="middle" textLength="25.0" lengthAdjust="spacingAndGlyphs">12-20</text>
<circle cx="955" cy="215" r="36.2" fill="#ea061d"/>
<text x="955.0" y="215.3" font-size="17.2" fill="#ffffff" font-weight="bold" text-anchor="middle" textLength="37.0" lengthAdjust="spacingAndGlyphs">50%</text>
<text x="955.7" y="234.3" font-size="10.6" fill="#ffffff" font-weight="normal" text-anchor="middle" textLength="35.0" lengthAdjust="spacingAndGlyphs">Celkom</text>
<rect x="0" y="508.8" width="859.6" height="2" fill="#c0142e"/>
<text x="71.5" y="542.6" font-size="15.4" fill="#111111" font-weight="normal" text-anchor="start" textLength="250.0" lengthAdjust="spacingAndGlyphs">Dáta k: 22.12.2021, Zdroj: NCZI, ÚVZ</text>
<g>
<path d="M866.3 502.5 H882.7 V514.6 C882.7 519 878.6 521.4 874.5 523.3 C870.4 521.4 866.3 519 866.3 514.6 Z" fill="#d9142c"/>
<path d="M866.4 516.9 C867.9 515.9 869.6 515.9 871 516.9 C872 515.3 877 515.3 878 516.9 C879.4 515.9 881.1 515.9 882.6 516.9 C881.8 519.8 878 521.7 874.5 523.2 C871 521.7 867.2 519.8 866.4 516.9 Z" fill="#1f4e9e"/>
<path d="M873.6 504 h1.9 v2.5 h2.9 v1.5 h-2.9 v2.2 h4.1 v1.5 h-4.1 v4.6 h-1.9 v-4.6 h-4.4 v-1.5 h4.4 v-2.2 h-3 v-1.5 h3 z" fill="#ffffff"/>
<rect x="887.5" y="509.4" width="18" height="1" fill="#d5d8de"/>
<rect x="905" y="509.2" width="19" height="1.5" fill="#7a86a6"/>
<rect x="923" y="509" width="77" height="1.8" fill="#b5203a"/>
<text x="887.2" y="507.2" font-size="6.3" fill="#2f5688" font-weight="normal" text-anchor="start" textLength="52.8" lengthAdjust="spacingAndGlyphs">MINISTERSTVO</text>
<text x="887.2" y="518.8" font-size="6.3" fill="#2f5688" font-weight="normal" text-anchor="start" textLength="63.3" lengthAdjust="spacingAndGlyphs">ZDRAVOTNÍCTVA</text>
<text x="887.2" y="525.7" font-size="6.3" fill="#2f5688" font-weight="normal" text-anchor="start" textLength="83.8" lengthAdjust="spacingAndGlyphs">SLOVENSKEJ REPUBLIKY</text>
</g>
</svg>
</body>
</html>
